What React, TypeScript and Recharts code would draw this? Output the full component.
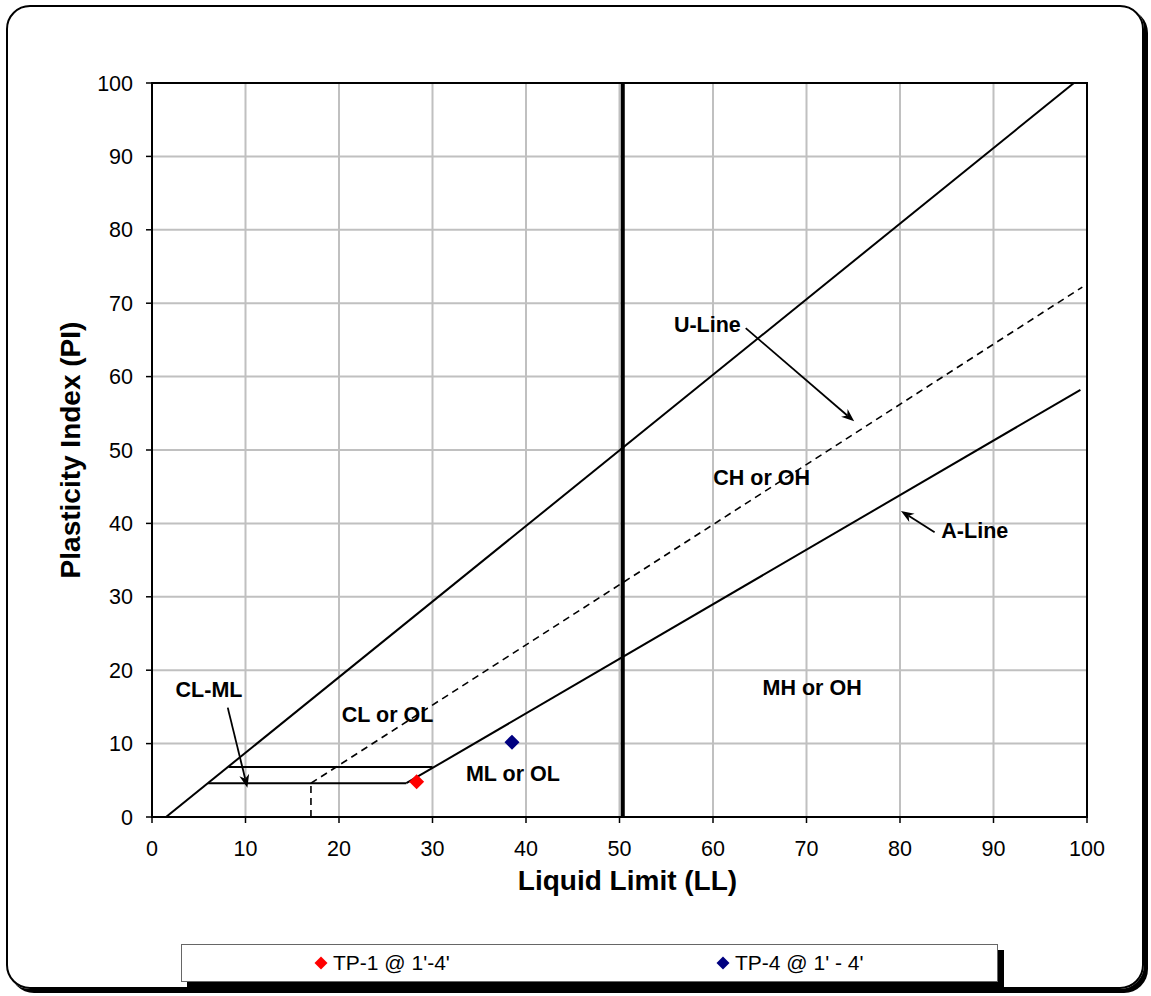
import React from 'react';
import {
    ComposedChart,
    Line,
    Scatter,
    XAxis,
    YAxis,
    CartesianGrid,
    ReferenceLine,
    ReferenceArea,
    ReferenceDot
} from 'recharts';

// axis ticks
const axisTicks = [0, 10, 20, 30, 40, 50, 60, 70, 80, 90, 100];

// chart lines (LL, PI)
const uLine = [{ x: 1.5, y: 0 }, { x: 98.6, y: 100 }];
const dashedLine = [{ x: 17.0, y: 4.6 }, { x: 99.5, y: 72.2 }];
const dashedDrop = [{ x: 17.0, y: 0 }, { x: 17.0, y: 4.6 }];
const aLine = [{ x: 27.2, y: 4.6 }, { x: 99.3, y: 58.2 }];
const clmlUpper = [{ x: 8.2, y: 6.8 }, { x: 30.0, y: 6.8 }];
const clmlLower = [{ x: 6.0, y: 4.6 }, { x: 27.2, y: 4.6 }];
const llDivide = 50.35;

// samples
const tp1 = [{ x: 28.3, y: 4.8 }];
const tp4 = [{ x: 38.5, y: 10.2 }];

// zone labels
const zoneLabels = [
    { x: 59.4, y: 67.0, text: 'U-Line' },
    { x: 65.2, y: 46.2, text: 'CH or OH' },
    { x: 88.0, y: 38.9, text: 'A-Line' },
    { x: 70.6, y: 17.6, text: 'MH or OH' },
    { x: 25.2, y: 13.9, text: 'CL or OL' },
    { x: 38.6, y: 5.8, text: 'ML or OL' },
    { x: 6.1, y: 17.3, text: 'CL-ML' }
];

// arrows [from, to]
const arrows = [
    [{ x: 63.5, y: 66.6 }, { x: 75.1, y: 53.9 }],
    [{ x: 83.7, y: 38.8 }, { x: 80.1, y: 41.7 }],
    [{ x: 8.1, y: 14.9 }, { x: 10.2, y: 4.0 }]
];

const FONT = '"Liberation Sans", Arial, sans-serif';

const Diamond = ({ cx, cy, fill }: any) => (
    <polygon points={`${cx},${cy - 7.5} ${cx + 7.5},${cy} ${cx},${cy + 7.5} ${cx - 7.5},${cy}`} fill={fill} />
);

const Arrow = (props: any) => {
    const { x1, y1, x2, y2 } = props;
    const ang = Math.atan2(y2 - y1, x2 - x1);
    const len = 13;
    const w = 5;
    const bx = x2 - len * Math.cos(ang);
    const by = y2 - len * Math.sin(ang);
    const nx = x2 - len * 0.7 * Math.cos(ang);
    const ny = y2 - len * 0.7 * Math.sin(ang);
    const px = -Math.sin(ang) * w;
    const py = Math.cos(ang) * w;
    return (
        <g>
            <line x1={x1} y1={y1} x2={nx} y2={ny} stroke="#000" strokeWidth={1.8} />
            <polygon points={`${x2},${y2} ${bx + px},${by + py} ${nx},${ny} ${bx - px},${by - py}`} fill="#000" />
        </g>
    );
};

const lineProps = {
    dataKey: 'y',
    stroke: '#000',
    strokeWidth: 2,
    dot: false,
    activeDot: false,
    isAnimationActive: false,
    legendType: 'none' as const
};

const App = () => {
    return (
        <div style={{ position: 'absolute', left: 0, top: 0, width: 1151, height: 996, fontFamily: FONT, background: '#fff' }}>
            <div style={{ position: 'absolute', left: 6, top: 5, width: 1138, height: 984, boxSizing: 'border-box', border: '2px solid #000', borderRadius: 24, boxShadow: '4px 4px 0 #000' }} />
            <div style={{ position: 'absolute', left: 0, top: 0 }}>
                <ComposedChart width={1151} height={996} margin={{ top: 83, right: 64, left: 0, bottom: 99 }}>
                    <CartesianGrid stroke="#c0c0c0" strokeWidth={2} />
                    <XAxis
                        type="number"
                        dataKey="x"
                        domain={[0, 100]}
                        ticks={axisTicks}
                        allowDataOverflow
                        height={80}
                        tickSize={6}
                        tickMargin={18}
                        axisLine={{ stroke: '#000', strokeWidth: 2 }}
                        tickLine={{ stroke: '#000', strokeWidth: 1.5 }}
                        tick={{ fill: '#000', fontSize: 21.5 }}
                        label={{ value: 'Liquid Limit (LL)', position: 'insideBottom', offset: 7, dx: 8, style: { fontSize: 28, fontWeight: 'bold', fill: '#000' } }}
                    />
                    <YAxis
                        type="number"
                        domain={[0, 100]}
                        ticks={axisTicks}
                        allowDataOverflow
                        width={152}
                        tickSize={6}
                        tickMargin={13}
                        axisLine={{ stroke: '#000', strokeWidth: 2 }}
                        tickLine={{ stroke: '#000', strokeWidth: 1.5 }}
                        tick={{ fill: '#000', fontSize: 21.5 }}
                        label={{ value: 'Plasticity Index (PI)', angle: -90, position: 'insideLeft', offset: 70, style: { textAnchor: 'middle', fontSize: 28, fontWeight: 'bold', fill: '#000' } }}
                    />

                    <ReferenceArea x1={0} x2={100} y1={0} y2={100} fill="none" fillOpacity={0} stroke="#000" strokeWidth={2} />
                    <ReferenceLine x={llDivide} stroke="#000" strokeWidth={4} />

                    <Line {...lineProps} data={uLine} />
                    <Line {...lineProps} data={aLine} />
                    <Line {...lineProps} data={clmlUpper} />
                    <Line {...lineProps} data={clmlLower} />
                    <Line {...lineProps} data={dashedLine} strokeWidth={1.6} strokeDasharray="7 5" />
                    <Line {...lineProps} data={dashedDrop} strokeWidth={1.6} strokeDasharray="7 5" />

                    {arrows.map((a, i) => (
                        <ReferenceLine key={'ar' + i} segment={a} shape={Arrow} />
                    ))}

                    {zoneLabels.map((l) => (
                        <ReferenceDot
                            key={l.text}
                            x={l.x}
                            y={l.y}
                            r={0}
                            shape={(p: any) => (
                                <text x={p.cx} y={p.cy} textAnchor="middle" dominantBaseline="central" fontSize={21.5} fontWeight="bold" fill="#000">
                                    {l.text}
                                </text>
                            )}
                        />
                    ))}

                    <Scatter data={tp1} dataKey="y" fill="#ff0000" shape={Diamond} isAnimationActive={false} />
                    <Scatter data={tp4} dataKey="y" fill="#000080" shape={Diamond} isAnimationActive={false} />
                </ComposedChart>
            </div>
            <div style={{ position: 'absolute', left: 181, top: 944, width: 817, height: 38, boxSizing: 'border-box', border: '1px solid #666', boxShadow: '6px 6px 0 #000', background: '#fff', fontSize: 21 }}>
                <div style={{ position: 'absolute', left: 132, top: 6, display: 'flex', alignItems: 'center' }}>
                    <svg width={14} height={18}><polygon points="7,2.5 13.5,9 7,15.5 0.5,9" fill="#ff0000" /></svg>
                    <span style={{ marginLeft: 5 }}>TP-1 @ 1'-4'</span>
                </div>
                <div style={{ position: 'absolute', left: 534, top: 6, display: 'flex', alignItems: 'center' }}>
                    <svg width={14} height={18}><polygon points="7,2.5 13.5,9 7,15.5 0.5,9" fill="#000080" /></svg>
                    <span style={{ marginLeft: 5 }}>TP-4 @ 1' - 4'</span>
                </div>
            </div>
        </div>
    );
};

export default App;
